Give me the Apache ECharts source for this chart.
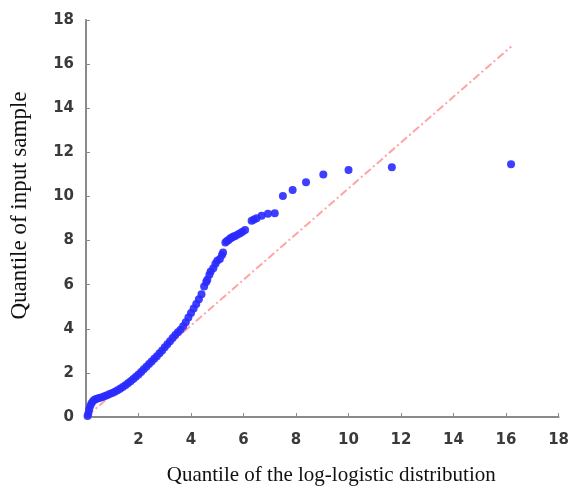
<!DOCTYPE html>
<html>
<head>
<meta charset="utf-8">
<script src="https://cdn.jsdelivr.net/npm/echarts@6/dist/echarts.min.js"></script>
<style>
  html, body { margin: 0; padding: 0; background: #ffffff; }
  #chart { width: 572px; height: 491px; }
</style>
</head>
<body>
<div id="chart"></div>
<script>
// Q-Q plot: sample quantiles against log-logistic quantiles
const theoreticalQ = [
  0.06, 0.09, 0.12, 0.16, 0.21, 0.27, 0.34, 0.42, 0.50, 0.60, 0.70, 0.80, 0.90,
  1.00, 1.10, 1.20, 1.30, 1.40, 1.50, 1.60, 1.70, 1.80, 1.90,
  2.00, 2.10, 2.20, 2.30, 2.40, 2.50, 2.60, 2.70, 2.80, 2.90,
  3.00, 3.10, 3.20, 3.30, 3.40, 3.50, 3.60, 3.70, 3.80, 3.90,
  4.00, 4.10, 4.20, 4.30, 4.40, 4.50, 4.58, 4.62, 4.70, 4.75, 4.85, 4.93,
  5.00, 5.10, 5.18, 5.22, 5.31, 5.37, 5.43, 5.50, 5.56, 5.62, 5.68, 5.78, 5.87, 5.96,
  6.06, 6.31, 6.40, 6.50, 6.69, 6.93, 7.19, 7.50, 7.87, 8.38, 9.04, 10.00, 11.65, 16.19
];
const sampleQ = [
  0.04, 0.16, 0.34, 0.50, 0.62, 0.72, 0.79, 0.83, 0.86, 0.90, 0.94, 0.99, 1.04,
  1.09, 1.15, 1.21, 1.28, 1.36, 1.44, 1.53, 1.62, 1.72, 1.82,
  1.93, 2.04, 2.16, 2.28, 2.40, 2.52, 2.64, 2.76, 2.89, 3.02,
  3.16, 3.30, 3.44, 3.58, 3.72, 3.84, 3.96, 4.11, 4.30, 4.51,
  4.72, 4.92, 5.12, 5.34, 5.56, 5.92, 6.12, 6.22, 6.45, 6.60, 6.75, 6.95,
  7.08, 7.16, 7.35, 7.46, 7.91, 7.98, 8.03, 8.10, 8.14, 8.18, 8.21, 8.27, 8.33, 8.40,
  8.48, 8.90, 8.95, 9.01, 9.12, 9.21, 9.24, 10.02, 10.29, 10.64, 11.00, 11.20, 11.32, 11.46
];

// reference line endpoints
const refX = [0.05, 16.2];
const refY = [0.05, 16.8];

const axisTicks = [0, 2, 4, 6, 8, 10, 12, 14, 16, 18];

const points = theoreticalQ.map((x, i) => [x, sampleQ[i]]);
const refLine = refX.map((x, i) => [x, refY[i]]);

const chart = echarts.init(document.getElementById('chart'), null, { renderer: 'canvas' });

const tickLabelStyle = {
  color: '#3a3a3a',
  fontFamily: 'DejaVu Sans',
  fontWeight: 'bold',
  fontSize: 15
};
const axisLineStyle = { color: '#8a8a8a', width: 2 };

chart.setOption({
  animation: false,
  backgroundColor: '#ffffff',
  grid: { left: 84, right: 10, top: 20, bottom: 73.5, containLabel: false },
  xAxis: {
    type: 'value',
    min: axisTicks[0],
    max: axisTicks[axisTicks.length - 1],
    interval: 2,
    name: 'Quantile of the log-logistic distribution',
    nameLocation: 'middle',
    nameGap: 48,
    nameTextStyle: {
      fontFamily: 'Liberation Serif',
      fontSize: 21,
      color: '#111111',
      padding: [0, 0, 0, 18]
    },
    axisLine: { show: true, lineStyle: axisLineStyle },
    axisTick: { show: true, inside: true, length: 4, lineStyle: { color: '#8a8a8a', width: 1 } },
    axisLabel: Object.assign({ margin: 16, showMinLabel: false }, tickLabelStyle),
    splitLine: { show: false }
  },
  yAxis: {
    type: 'value',
    min: axisTicks[0],
    max: axisTicks[axisTicks.length - 1],
    interval: 2,
    name: 'Quantile of input sample',
    nameLocation: 'middle',
    nameGap: 55,
    nameTextStyle: {
      fontFamily: 'Liberation Serif',
      fontSize: 23,
      color: '#111111',
      padding: [0, 0, 0, 26]
    },
    axisLine: { show: true, lineStyle: axisLineStyle },
    axisTick: { show: true, inside: true, length: 4, lineStyle: { color: '#8a8a8a', width: 1 } },
    axisLabel: Object.assign({ margin: 12 }, tickLabelStyle),
    splitLine: { show: false }
  },
  series: [
    {
      name: 'reference',
      type: 'line',
      data: refLine,
      symbol: 'none',
      lineStyle: { color: '#ff9494', width: 2, type: [8, 3, 2, 3], opacity: 0.85 },
      z: 1
    },
    {
      name: 'sample',
      type: 'scatter',
      data: points,
      symbol: 'circle',
      symbolSize: 8,
      itemStyle: { color: '#2a2aff', opacity: 0.9 },
      z: 2
    }
  ]
});
</script>
</body>
</html>
